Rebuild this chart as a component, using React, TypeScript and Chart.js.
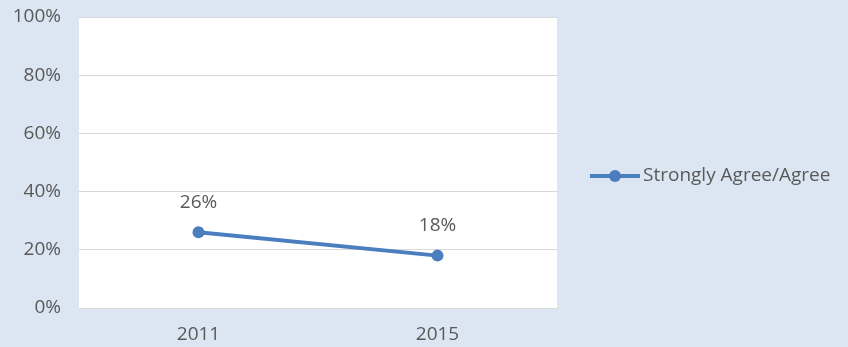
import React, { useEffect, useRef } from "react";
import { Chart, registerables } from "chart.js";

Chart.register(...registerables);

const categories = ["2011", "2015"];
const seriesName = "Strongly Agree/Agree";
const seriesValues = [26, 18];
const yTicks = [0, 20, 40, 60, 80, 100];

const FONT = "'Open Sans', sans-serif";
const TEXT = "#595959";
const LINE = "#4a7ebf";
const FS = 19;

const labelsPlugin = {
  id: "pointLabels",
  afterDatasetsDraw(chart: any) {
    const ctx = chart.ctx;
    const meta = chart.getDatasetMeta(0);
    ctx.save();
    ctx.font = `${FS}px ${FONT}`;
    ctx.fillStyle = TEXT;
    ctx.textAlign = "center";
    ctx.textBaseline = "middle";
    meta.data.forEach((pt: any, i: number) => {
      ctx.fillText(`${seriesValues[i]}%`, pt.x, pt.y - 30);
    });
    ctx.restore();
  },
};

const legendPlugin = {
  id: "customLegend",
  afterDraw(chart: any) {
    const ctx = chart.ctx;
    const area = chart.chartArea;
    const x0 = area.right + 33;
    const y = 176;
    ctx.save();
    ctx.strokeStyle = LINE;
    ctx.lineWidth = 4;
    ctx.beginPath();
    ctx.moveTo(x0, y);
    ctx.lineTo(x0 + 50, y);
    ctx.stroke();
    ctx.fillStyle = LINE;
    ctx.beginPath();
    ctx.arc(x0 + 25, y, 6, 0, Math.PI * 2);
    ctx.fill();
    ctx.font = `${FS}px ${FONT}`;
    ctx.fillStyle = TEXT;
    ctx.textAlign = "left";
    ctx.textBaseline = "middle";
    ctx.fillText(seriesName, x0 + 53, y);
    ctx.restore();
  },
};

export default function App() {
  const ref = useRef<HTMLCanvasElement>(null);
  useEffect(() => {
    document.body.style.margin = "0";
    const chart = new Chart(ref.current!, {
      type: "line",
      data: {
        labels: categories,
        datasets: [
          {
            label: seriesName,
            data: seriesValues,
            borderColor: LINE,
            backgroundColor: LINE,
            borderWidth: 4,
            pointRadius: 6,
            pointBackgroundColor: LINE,
            pointBorderColor: LINE,
            pointBorderWidth: 0,
          },
        ],
      },
      options: {
        animation: false,
        responsive: false,
        maintainAspectRatio: false,
        layout: { padding: { top: 17, left: 0, right: 291, bottom: 0 } },
        plugins: {
          legend: { display: false },
          tooltip: { enabled: false },
        },
        scales: {
          x: {
            offset: true,
            grid: { display: false },
            border: { display: true, color: "#d9d9d9", width: 1 },
            ticks: { color: TEXT, font: { family: FONT, size: FS }, padding: 7 },
            afterFit(scale: any) {
              scale.height = 39;
              scale.paddingLeft = 0;
              scale.paddingRight = 0;
            },
          },
          y: {
            min: 0,
            max: 100,
            afterBuildTicks(scale: any) {
              scale.ticks = yTicks.map((v) => ({ value: v }));
            },
            grid: { color: "#d9d9d9", lineWidth: 1, drawTicks: false },
            border: { display: false },
            ticks: {
              color: TEXT,
              font: { family: FONT, size: FS },
              padding: 18,
              callback: (v: any) => `${v}%`,
            },
            afterFit(scale: any) {
              scale.width = 79;
              scale.paddingTop = 0;
              scale.paddingBottom = 0;
            },
          },
        },
      },
      plugins: [
        {
          id: "plotBg",
          beforeDraw(chart: any) {
            const { ctx, chartArea } = chart;
            ctx.save();
            ctx.fillStyle = "#ffffff";
            ctx.fillRect(chartArea.left, chartArea.top, chartArea.right - chartArea.left, chartArea.bottom - chartArea.top);
            ctx.restore();
          },
        },
        labelsPlugin,
        legendPlugin,
      ],
    });
    return () => chart.destroy();
  }, []);
  return (
    <div style={{ position: "absolute", left: 0, top: 0, width: 848, height: 347, background: "#dce6f2" }}>
      <canvas ref={ref} width={848} height={347} style={{ display: "block" }} />
    </div>
  );
}
